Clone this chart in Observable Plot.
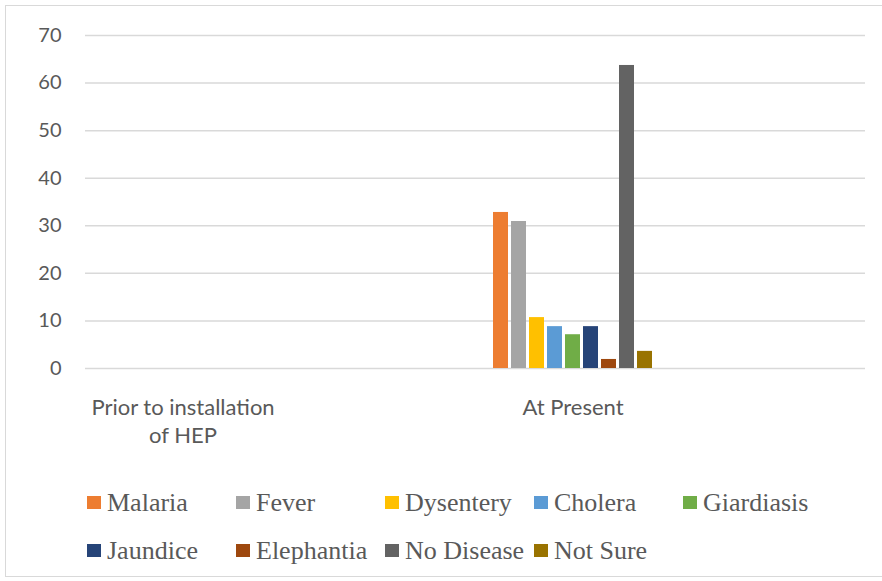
<!DOCTYPE html>
<html>
<head>
<meta charset="utf-8">
<script src="https://cdn.jsdelivr.net/npm/d3@7"></script>
<script src="https://cdn.jsdelivr.net/npm/@observablehq/plot@0.6"></script>
<style>
  html, body { margin: 0; padding: 0; background: #fff; }
  #wrap { position: relative; width: 882px; height: 581px; overflow: hidden; background: #fff; }
  #frame { position: absolute; left: 5px; top: 5px; width: 890px; height: 572px; border: 1px solid #d9d9d9; box-sizing: border-box; }
  #chart { position: absolute; left: 0; top: 0; }
  #legend { position: absolute; left: 87px; top: 488px; font-family: "Liberation Serif", "Times New Roman", serif; font-size: 26px; color: #595959; display: grid; grid-template-columns: repeat(5, 149px); row-gap: 19px; }
  .item { display: flex; align-items: center; height: 29px; white-space: nowrap; }
  .sw { width: 14px; height: 13px; margin-right: 6px; flex: none; }
</style>
</head>
<body>
<div id="wrap">
  <div id="frame"></div>
  <div id="chart"></div>
  <div id="legend"></div>
</div>
<script>
const categories = ["Prior to installation of HEP", "At Present"];
const diseases = ["Malaria", "Fever", "Dysentery", "Cholera", "Giardiasis", "Jaundice", "Elephantia", "No Disease", "Not Sure"];
const priorValues = [0, 0, 0, 0, 0, 0, 0, 0, 0];
const presentValues = [32.8, 30.9, 10.7, 8.8, 7.1, 8.8, 1.9, 63.7, 3.6];
const yTicks = [0, 10, 20, 30, 40, 50, 60, 70];
const colors = ["#ED7D31", "#A5A5A5", "#FFC000", "#5B9BD5", "#70AD47", "#264478", "#9E480E", "#636363", "#997300"];

const seriesByCategory = [priorValues, presentValues];
const data = categories.flatMap((c, i) =>
  diseases.map((d, j) => ({category: c, disease: d, value: seriesByCategory[i][j]}))
);

// Excel layout leaves empty slots after each category
const fxDomain = [categories[0], "gap1", categories[1], "gap2"];
const gridData = fxDomain.flatMap(slot => yTicks.map(t => ({slot, tick: t})));

const chart = Plot.plot({
  width: 882,
  height: 460,
  marginTop: 35,
  marginBottom: 92,
  marginLeft: 83,
  marginRight: 16,
  style: {fontFamily: "Lato, 'Open Sans', sans-serif", fontSize: "20px", color: "#595959", background: "transparent"},
  fx: {domain: fxDomain, padding: 0},
  x: {domain: diseases, paddingInner: 0.19, paddingOuter: 0.855},
  y: {domain: [0, 70]},
  color: {domain: diseases, range: colors},
  marks: [
    Plot.gridY(gridData, {fx: "slot", y: "tick", stroke: "#d9d9d9", strokeOpacity: 1, strokeWidth: 1.5}),
    Plot.axisY({ticks: yTicks, tickSize: 0, tickPadding: 24, label: null, fontSize: 20}),
    Plot.axisFx({
      anchor: "bottom",
      tickSize: 0,
      tickPadding: 27,
      label: null,
      fontSize: 22,
      lineHeight: 1.27,
      tickFormat: d => d.startsWith("gap") ? "" : d.replace("installation ", "installation\n")
    }),
    Plot.axisX({ticks: [], label: null}),
    Plot.barY(data, {fx: "category", x: "disease", y: "value", fill: "disease"})
  ]
});
document.getElementById("chart").appendChild(chart);

const legend = document.getElementById("legend");
diseases.forEach((d, i) => {
  const item = document.createElement("div");
  item.className = "item";
  const sw = document.createElement("span");
  sw.className = "sw";
  sw.style.background = colors[i];
  const tx = document.createElement("span");
  tx.textContent = d;
  item.appendChild(sw);
  item.appendChild(tx);
  legend.appendChild(item);
});
</script>
</body>
</html>
